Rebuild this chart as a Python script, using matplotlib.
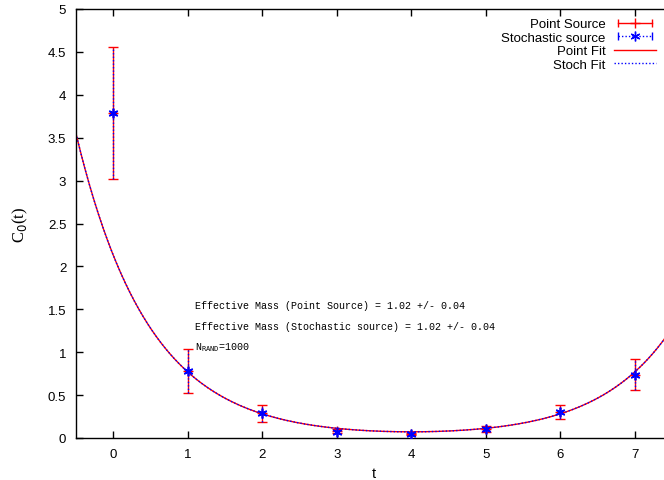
import numpy as np
import matplotlib
matplotlib.use("Agg")
import matplotlib.pyplot as plt
from matplotlib.lines import Line2D
from matplotlib.legend_handler import HandlerLine2D, HandlerTuple

# Correlator data
t = [0, 1, 2, 3, 4, 5, 6, 7]
point_c = [3.79, 0.78, 0.29, 0.08, 0.05, 0.105, 0.30, 0.74]
point_err = [0.77, 0.26, 0.10, 0.02, 0.01, 0.03, 0.08, 0.18]
stoch_c = [3.79, 0.78, 0.29, 0.075, 0.05, 0.105, 0.30, 0.74]
stoch_err = [0.77, 0.26, 0.10, 0.02, 0.01, 0.03, 0.08, 0.18]

# cosh fit parameters: C(t) = A (exp(-m t) + exp(-m (T - t)))
fit_amp = 2.13
fit_mass = 1.02
fit_period = 8

xticks = [0, 1, 2, 3, 4, 5, 6, 7]
yticks = [0, 0.5, 1, 1.5, 2, 2.5, 3, 3.5, 4, 4.5, 5]
ytick_labels = ["0", "0.5", "1", "1.5", "2", "2.5", "3", "3.5", "4", "4.5", "5"]

notes = [
    "Effective Mass (Point Source) = 1.02 +/- 0.04",
    "Effective Mass (Stochastic source) = 1.02 +/- 0.04",
    r"N$_{\mathtt{RAND}}$=1000",
]

plt.rcParams["font.family"] = ["Liberation Sans", "DejaVu Sans"]

fig = plt.figure(figsize=(6.64, 4.81), dpi=100)
ax = fig.add_axes([76 / 664, 42 / 481, 596 / 664, 429 / 481])

tt = np.linspace(-0.5, 7.5, 400)
fit = fit_amp * (np.exp(-fit_mass * tt) + np.exp(-fit_mass * (fit_period - tt)))

ax.errorbar(t, point_c, yerr=point_err, fmt="none", ecolor="red",
            elinewidth=1, capsize=3.5, capthick=1, zorder=3)
ax.plot(t, point_c, ls="none", marker="+", color="red", ms=7, zorder=3)
eb = ax.errorbar(t, stoch_c, yerr=stoch_err, fmt="none", ecolor="blue",
                 elinewidth=1, capsize=0, zorder=4)
for coll in eb[2]:
    coll.set_linestyle((0, (1, 1.5)))
ax.plot(t, stoch_c, ls="none", marker=(6, 2, 0), color="blue", ms=7, mew=1.2, zorder=5)

ax.plot(tt, fit, color="red", lw=1, zorder=2)
ax.plot(tt, fit, color="blue", lw=1, ls=(0, (1, 1.5)), zorder=2)

ax.set_xlim(-0.5, 7.5)
ax.set_ylim(0, 5)
ax.set_xticks(xticks)
ax.set_yticks(yticks)
ax.set_yticklabels(ytick_labels)
ax.tick_params(direction="in", length=5, width=1, top=True, right=True,
               labelsize=9.5, pad=7)
for sp in ax.spines.values():
    sp.set_linewidth(1)

ax.set_xlabel("t", fontsize=10.5, labelpad=4.5)
ax.set_ylabel(r"C$_0$(t)", fontsize=12, family="Liberation Serif", labelpad=13)

for i, s in enumerate(notes):
    ax.text(1.10, 1.55 - i * 0.245, s, family="Liberation Mono", fontsize=7.2,
            va="center", ha="left")

# legend (gnuplot style, right-aligned labels)
ps_caps = Line2D([], [], color="red", lw=1, marker="|", ms=6)
ps_mid = Line2D([], [], color="red", lw=0, marker="+", ms=7)
st_caps = Line2D([], [], color="blue", lw=1, ls=(0, (1, 1.5)), marker="|", ms=6)
st_mid = Line2D([], [], color="blue", lw=0, marker=(6, 2, 0), ms=7)
pf = Line2D([], [], color="red", lw=1)
sf = Line2D([], [], color="blue", lw=1, ls=(0, (1, 1.5)))
hm = {
    ps_caps: HandlerLine2D(numpoints=2), st_caps: HandlerLine2D(numpoints=2),
    ps_mid: HandlerLine2D(numpoints=1), st_mid: HandlerLine2D(numpoints=1),
    tuple: HandlerTuple(ndivide=1, pad=0),
}
fig.legend([(ps_caps, ps_mid), (st_caps, st_mid), pf, sf],
           ["Point Source", "Stochastic source", "Point Fit", "Stoch Fit"],
           handler_map=hm, loc="upper right", bbox_to_anchor=(656 / 664, 1 - 19 / 481),
           frameon=False, markerfirst=False, fontsize=9.5, handlelength=3.2,
           handletextpad=0.6, labelspacing=0.1, borderpad=0, borderaxespad=0)

fig.savefig("out.png", dpi=100)
